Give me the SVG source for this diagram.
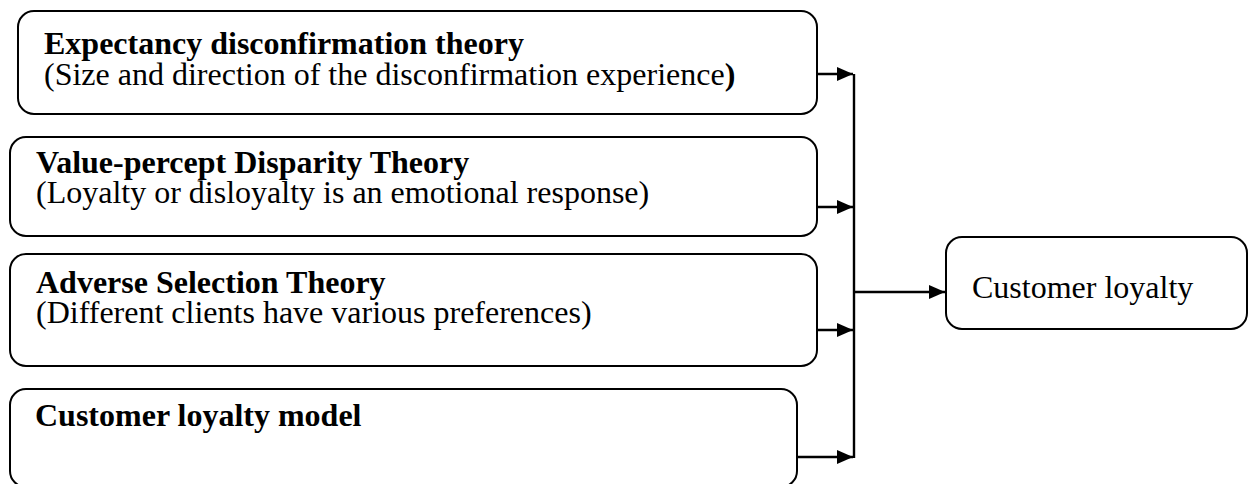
<svg xmlns="http://www.w3.org/2000/svg" width="1250" height="484" viewBox="0 0 1250 484">
<style>
.box{fill:#fff;stroke:#000;stroke-width:2}
.t{font-family:"Liberation Serif","Times New Roman",serif;font-size:32px;fill:#000}
.b{font-weight:bold}
.c{stroke:#000;stroke-width:2.4;fill:none}
</style>
<defs>
<marker id="ah" viewBox="0 0 16 14" refX="16" refY="7" markerWidth="16" markerHeight="14" markerUnits="userSpaceOnUse" orient="auto">
<path d="M0,0 L16,7 L0,14 z" fill="#000"/>
</marker>
</defs>
<rect width="1250" height="484" fill="#fff"/>
<g id="n1">
<rect class="box" x="18" y="11" width="799" height="103" rx="16"/>
<text class="t b" x="44" y="54">Expectancy disconfirmation theory</text>
<text class="t" x="44" y="85">(Size and direction of the disconfirmation experience<tspan class="b">)</tspan></text>
</g>
<g id="n2">
<rect class="box" x="10" y="137" width="807" height="99" rx="16"/>
<text class="t b" x="36" y="173">Value-percept Disparity Theory</text>
<text class="t" x="36" y="203">(Loyalty or disloyalty is an emotional response)</text>
</g>
<g id="n3">
<rect class="box" x="10" y="254" width="807" height="112" rx="16"/>
<text class="t b" x="36" y="293">Adverse Selection Theory</text>
<text class="t" x="36" y="323">(Different clients have various preferences)</text>
</g>
<g id="n4">
<rect class="box" x="10" y="389" width="787" height="98" rx="16"/>
<text class="t b" x="35" y="426">Customer loyalty model</text>
</g>
<g id="n5">
<rect class="box" x="946" y="237" width="301" height="92" rx="16"/>
<text class="t" x="972" y="298">Customer loyalty</text>
</g>
<g id="connectors">
<line class="c" x1="854" y1="74" x2="854" y2="458"/>
<line class="c" x1="818" y1="74" x2="853" y2="74" marker-end="url(#ah)"/>
<line class="c" x1="818" y1="207" x2="853" y2="207" marker-end="url(#ah)"/>
<line class="c" x1="818" y1="330" x2="853" y2="330" marker-end="url(#ah)"/>
<line class="c" x1="798" y1="457" x2="853" y2="457" marker-end="url(#ah)"/>
<line class="c" x1="854" y1="292" x2="945" y2="292" marker-end="url(#ah)"/>
</g>
</svg>
